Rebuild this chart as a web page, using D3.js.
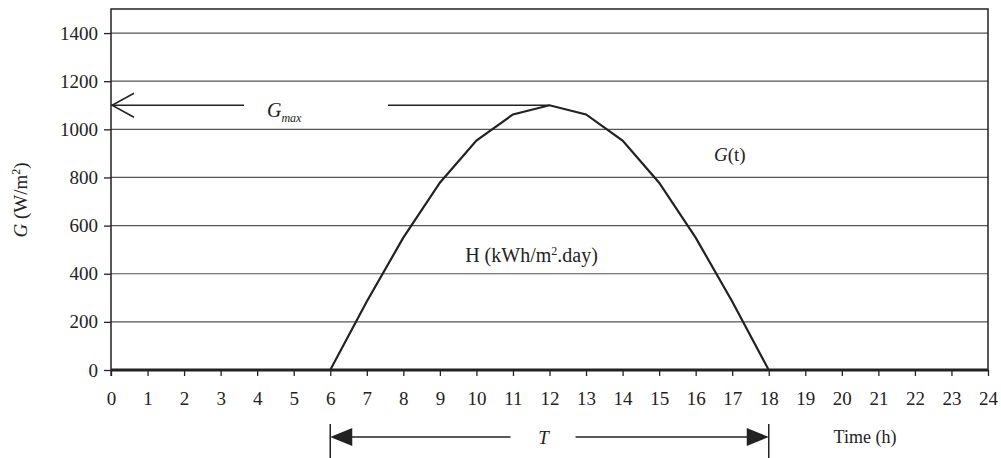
<!DOCTYPE html>
<html>
<head>
<meta charset="utf-8">
<script src="https://cdn.jsdelivr.net/npm/d3@7"></script>
<style>
  body { margin: 0; background: #fff; }
  svg text { font-family: "Liberation Serif", "Times New Roman", serif; fill: #222; }
</style>
</head>
<body>
<div id="chart"></div>
<script>
// Hours of the day and irradiance G(t) in W/m2
const hours = [0, 1, 2, 3, 4, 5, 6, 7, 8, 9, 10, 11, 12, 13, 14, 15, 16, 17, 18, 19, 20, 21, 22, 23, 24];
const irradiance = [0, 0, 0, 0, 0, 0, 0, 285, 550, 778, 953, 1062, 1100, 1062, 953, 778, 550, 285, 0, 0, 0, 0, 0, 0, 0];
const yTicks = [0, 200, 400, 600, 800, 1000, 1200, 1400];
const gMax = 1100;
const sunrise = 6, sunset = 18;

const width = 1001, height = 458;
const margin = { top: 9, right: 13, bottom: 88, left: 111 };
const w = width - margin.left - margin.right;
const h = height - margin.top - margin.bottom;
const serif = "'Liberation Serif', 'Times New Roman', serif";

const svg = d3.select("#chart").append("svg")
  .attr("width", width).attr("height", height)
  .attr("font-family", serif);

const g = svg.append("g").attr("transform", `translate(${margin.left},${margin.top})`);

const x = d3.scaleLinear().domain([0, 24]).range([0, w]);
const y = d3.scaleLinear().domain([0, 1500]).range([h, 0]);

// gridlines
g.selectAll(".grid").data(yTicks.filter(d => d > 0)).enter().append("line")
  .attr("x1", 0).attr("x2", w)
  .attr("y1", d => y(d)).attr("y2", d => y(d))
  .attr("stroke", "#555").attr("stroke-width", 1.2);

// plot frame
g.append("rect").attr("x", 0).attr("y", 0).attr("width", w).attr("height", h)
  .attr("fill", "none").attr("stroke", "#222").attr("stroke-width", 1.5);

// axes
const yAxis = d3.axisLeft(y).tickValues(yTicks).tickFormat(d3.format("d")).tickSize(7).tickPadding(6);
const xAxis = d3.axisBottom(x).tickValues(hours).tickFormat(d3.format("d")).tickSize(6).tickPadding(16);

const ya = g.append("g").call(yAxis);
const xa = g.append("g").attr("transform", `translate(0,${h})`).call(xAxis);
[ya, xa].forEach(a => {
  a.attr("font-family", serif).attr("font-size", 19);
  a.select(".domain").remove();
  a.selectAll("line").attr("stroke", "#222").attr("stroke-width", 1.3);
  a.selectAll("text").attr("fill", "#222");
});
// small stub of the y axis below zero
g.append("line").attr("x1", 0).attr("x2", 0).attr("y1", h).attr("y2", h + 6)
  .attr("stroke", "#222").attr("stroke-width", 1.3);

// curve
const line = d3.line().x((d, i) => x(hours[i])).y(d => y(d));
g.append("path").datum(irradiance)
  .attr("d", line).attr("fill", "none")
  .attr("stroke", "#222").attr("stroke-width", 2.2);
g.append("line").attr("x1", 0).attr("x2", w).attr("y1", h).attr("y2", h)
  .attr("stroke", "#222").attr("stroke-width", 3);

// Gmax arrow
const yg = y(gMax);
g.append("line").attr("x1", 0).attr("x2", 133).attr("y1", yg).attr("y2", yg)
  .attr("stroke", "#222").attr("stroke-width", 1.5);
g.append("line").attr("x1", 277).attr("x2", x(12)).attr("y1", yg).attr("y2", yg)
  .attr("stroke", "#222").attr("stroke-width", 1.5);
g.append("path").attr("d", `M23,${yg - 12}L1,${yg}L23,${yg + 12}`)
  .attr("fill", "none").attr("stroke", "#222").attr("stroke-width", 1.5);
const gm = g.append("text").attr("x", 156).attr("y", yg + 12).attr("font-size", 20);
gm.append("tspan").attr("font-style", "italic").text("G");
gm.append("tspan").attr("font-style", "italic").attr("dy", 5).attr("font-size", 12).text("max");

// G(t) label
const gt = g.append("text").attr("x", 603).attr("y", 152).attr("font-size", 19);
gt.append("tspan").attr("font-style", "italic").text("G");
gt.append("tspan").text("(t)");

// H label
const hl = g.append("text").attr("x", x(12) - 18).attr("y", 253).attr("text-anchor", "middle").attr("font-size", 20);
hl.append("tspan").text("H (kWh/m");
hl.append("tspan").attr("dy", -7).attr("font-size", 12).text("2");
hl.append("tspan").attr("dy", 7).text(".day)");

// y axis title
const yt = svg.append("text").attr("transform", `translate(27,${margin.top + 191}) rotate(-90)`)
  .attr("text-anchor", "middle").attr("font-size", 19);
yt.append("tspan").attr("font-style", "italic").text("G");
yt.append("tspan").text(" (W/m");
yt.append("tspan").attr("dy", -7).attr("font-size", 12).text("2");
yt.append("tspan").attr("dy", 7).text(")");

// T span arrow below axis
const ty = h + 67;
const x0 = x(sunrise), x1 = x(sunset);
[x0, x1].forEach(v => g.append("line").attr("x1", v).attr("x2", v).attr("y1", h + 54).attr("y2", h + 88)
  .attr("stroke", "#222").attr("stroke-width", 1.5));
g.append("path").attr("d", `M${x0},${ty}L${x0 + 22},${ty - 9}L${x0 + 22},${ty + 9}Z`).attr("fill", "#222");
g.append("path").attr("d", `M${x1},${ty}L${x1 - 22},${ty - 9}L${x1 - 22},${ty + 9}Z`).attr("fill", "#222");
g.append("line").attr("x1", x0 + 20).attr("x2", x(12) - 39).attr("y1", ty).attr("y2", ty)
  .attr("stroke", "#222").attr("stroke-width", 1.5);
g.append("line").attr("x1", x(12) + 26).attr("x2", x1 - 20).attr("y1", ty).attr("y2", ty)
  .attr("stroke", "#222").attr("stroke-width", 1.5);
g.append("text").attr("x", x(12) - 6).attr("y", ty + 7).attr("text-anchor", "middle")
  .attr("font-style", "italic").attr("font-size", 19).text("T");

// x axis title
g.append("text").attr("x", 754).attr("y", h + 73).attr("text-anchor", "middle")
  .attr("font-size", 18).text("Time (h)");
</script>
</body>
</html>
